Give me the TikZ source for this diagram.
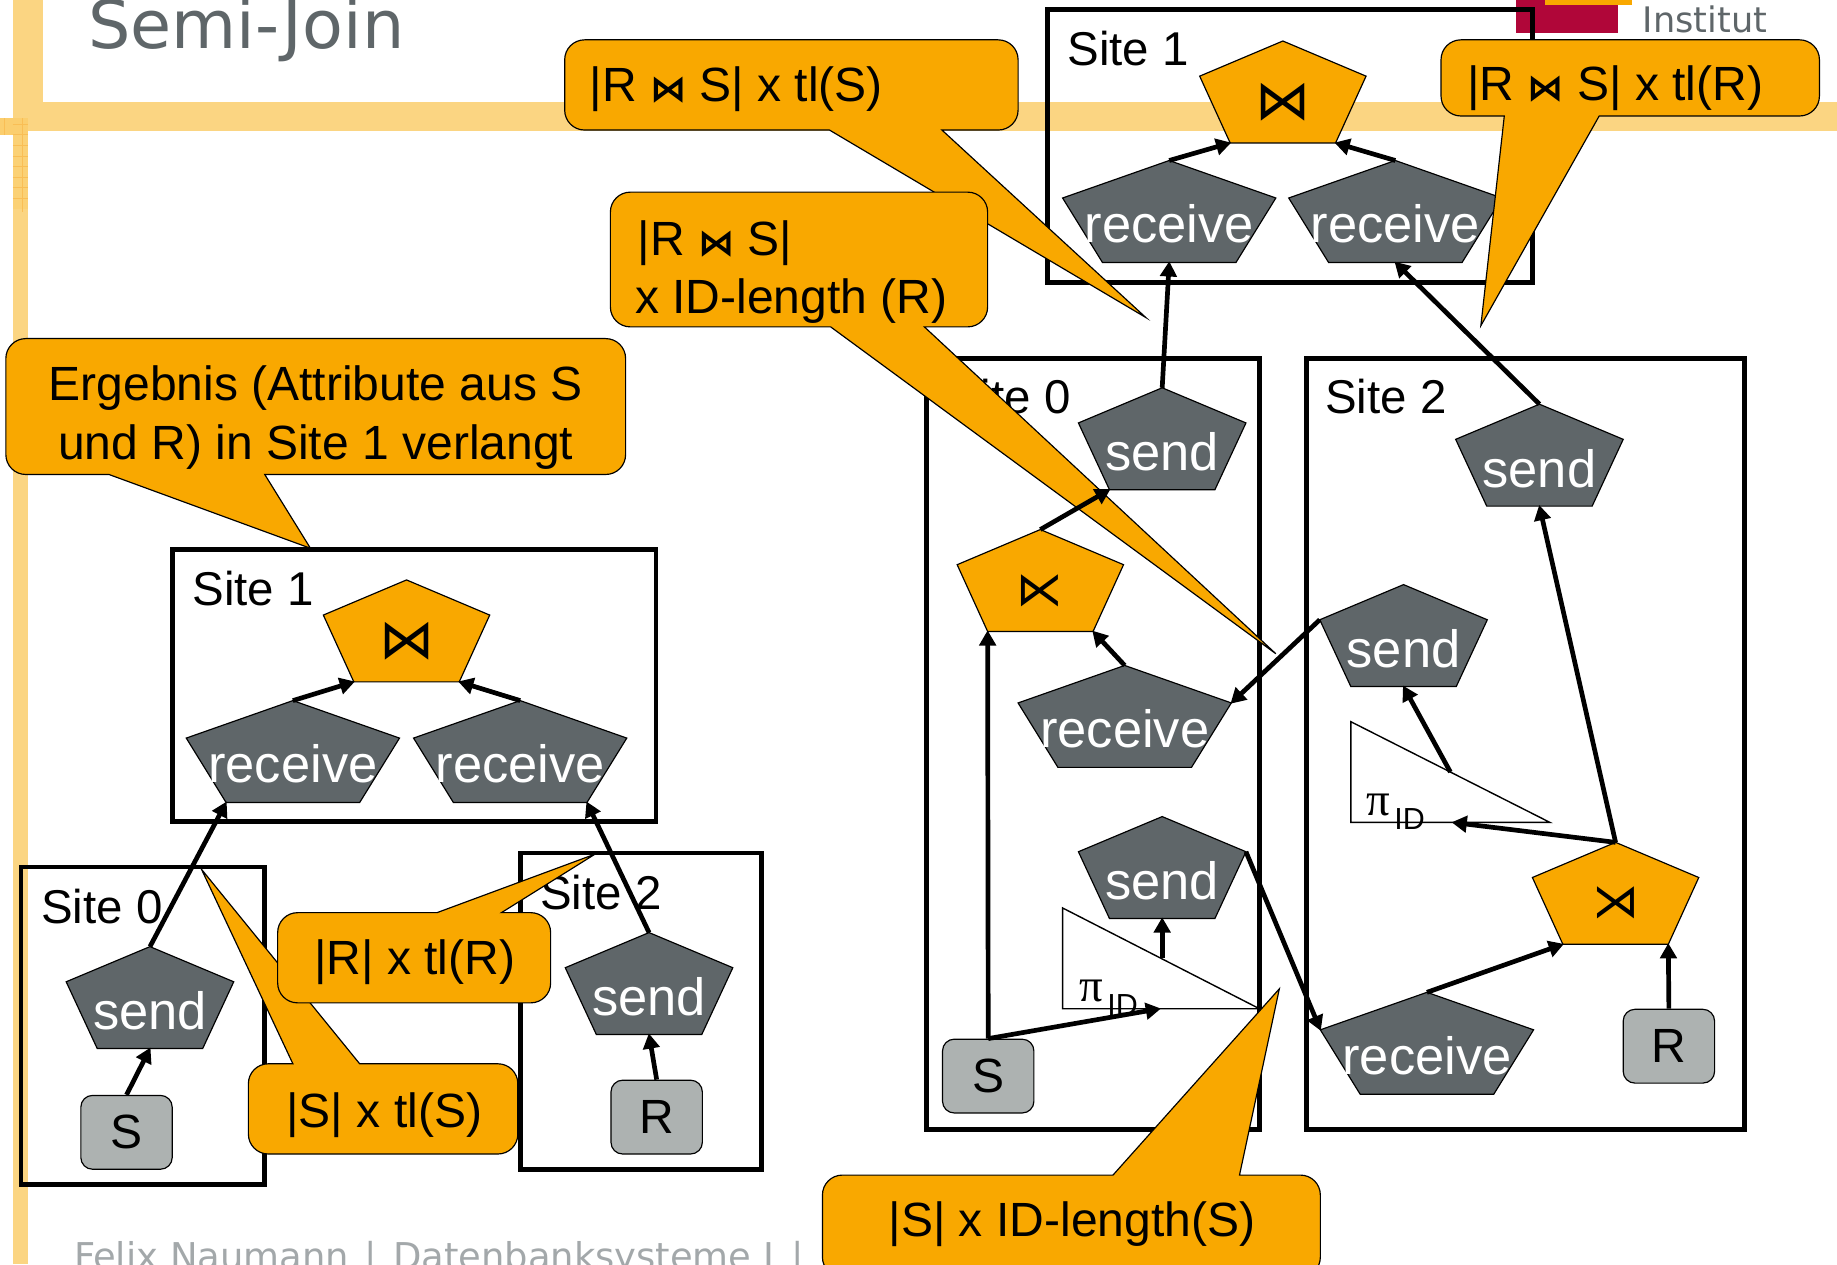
\documentclass[tikz,border=0pt]{standalone}
\usepackage{fontspec}
\setmainfont{Liberation Sans}
\newfontfamily\djv{DejaVu Sans}
\newfontfamily\djvb{DejaVu Sans Bold}
\newfontfamily\lserif{Liberation Serif}
\usetikzlibrary{arrows.meta}
\definecolor{hpiorange}{HTML}{F9A800}
\definecolor{hpigray}{HTML}{5F6669}
\definecolor{relgray}{HTML}{ADB2B1}
\definecolor{bandc}{HTML}{FBD582}
\definecolor{gridc}{HTML}{F9BE55}
\definecolor{hpired}{HTML}{B00639}
\definecolor{footc}{HTML}{A3A8AA}
\newcommand{\fs}[1]{\fontsize{#1}{#1}\selectfont}
\tikzset{
  x=1pt,y=-1pt,
  sitebox/.style={draw=black,line width=4pt,fill=none},
  graypent/.style={draw=black,line width=1pt,fill=hpigray},
  orangepent/.style={draw=black,line width=1pt,fill=hpiorange},
  whitetext/.style={text=white,anchor=base,inner sep=0pt,font=\fs{44.8}},
  symtext/.style={text=black,anchor=center,inner sep=0pt,font=\djv\fs{42}},
  labeltext/.style={text=black,anchor=base west,inner sep=0pt,font=\fs{40.5}},
  calloutshape/.style={draw=black,line width=1pt,fill=hpiorange},
  callouttext/.style={text=black,anchor=base west,inner sep=0pt,font=\fs{41}},
  callcenter/.style={text=black,anchor=base,inner sep=0pt,font=\fs{41}},
  relbox/.style={draw=black,line width=1pt,fill=relgray,rounded corners=10pt,minimum width=78pt,minimum height=63pt,inner sep=0pt,font=\fs{41}},
  trishape/.style={draw=black,line width=1.2pt,fill=white},
  flow/.style={draw=black,line width=4pt,-{Triangle[length=13pt,width=14pt]},shorten >=-1pt},
}
\newcommand{\pent}[8]{%
  \coordinate (#1-t) at (#2,#3);
  \coordinate (#1-l) at ({#2-#4},{#3+#5});
  \coordinate (#1-r) at ({#2+#4},{#3+#5});
  \coordinate (#1-bl) at ({#2-#6},{#3+#7});
  \coordinate (#1-br) at ({#2+#6},{#3+#7});
  \coordinate (#1-b) at (#2,{#3+#7});
  \draw[#8] (#1-t) -- (#1-r) -- (#1-br) -- (#1-bl) -- (#1-l) -- cycle;
}
\newcommand{\sendp}[3]{\pent{#1}{#2}{#3}{71.5}{30}{45}{87}{graypent}\node[whitetext] (#1) at (#2,{#3+71}) {send};}
\newcommand{\recvp}[3]{\pent{#1}{#2}{#3}{91}{32}{57}{87}{graypent}\node[whitetext] (#1) at (#2,{#3+70}) {receive};}
\newcommand{\opp}[4]{\pent{#1}{#2}{#3}{71}{30}{45}{87}{orangepent}\node[symtext] (#1) at (#2,{#3+52}) {#4};}
\newcommand{\rr}{17}
\newcommand{\rk}{7.6}
% name L T R B ax tipx tipy bx : tail on the bottom side
\newcommand{\callout}[9]{%
  \draw[calloutshape] (#6,#5) -- (#7,#8) -- (#9,#5) -- ({#4-\rr},#5) .. controls ({#4-\rk},#5) and (#4,{#5-\rk}) .. (#4,{#5-\rr}) -- (#4,{#3+\rr}) .. controls (#4,{#3+\rk}) and ({#4-\rk},#3) .. ({#4-\rr},#3) -- ({#2+\rr},#3) .. controls ({#2+\rk},#3) and (#2,{#3+\rk}) .. (#2,{#3+\rr}) -- (#2,{#5-\rr}) .. controls (#2,{#5-\rk}) and ({#2+\rk},#5) .. ({#2+\rr},#5) -- cycle;
}
% name L T R B ax tipx tipy bx : tail on the top side
\newcommand{\calloutT}[9]{%
  \draw[calloutshape] (#6,#3) -- (#7,#8) -- (#9,#3) -- ({#4-\rr},#3) .. controls ({#4-\rk},#3) and (#4,{#3+\rk}) .. (#4,{#3+\rr}) -- (#4,{#5-\rr}) .. controls (#4,{#5-\rk}) and ({#4-\rk},#5) .. ({#4-\rr},#5) -- ({#2+\rr},#5) .. controls ({#2+\rk},#5) and (#2,{#5-\rk}) .. (#2,{#5-\rr}) -- (#2,{#3+\rr}) .. controls (#2,{#3+\rk}) and ({#2+\rk},#3) .. ({#2+\rr},#3) -- cycle;
}
\newcommand{\jn}{{\djvb\fs{31}⋈}}
\begin{document}
\begin{tikzpicture}
\useasboundingbox (0,0) rectangle (1568,1079);
\fill[white] (0,0) rectangle (1568,1079);
% slide background
\fill[bandc] (11,0) rectangle (37,87);
\fill[bandc] (11,87) rectangle (1568,112);
\fill[bandc] (11,112) rectangle (24,1079);
\fill[bandc!85!hpiorange] (0,101) rectangle (24,115);
\fill[bandc!90!hpiorange] (11,115) rectangle (24,178);
\foreach \yy in {106,115,124,133,142,151,160,169}{\draw[gridc,line width=.5pt] (11,\yy) -- (24,\yy);}
\draw[gridc,line width=.5pt] (19,101) -- (19,181);
\draw[gridc,line width=.5pt] (4,101) -- (4,115);
\fill[hpired] (1294,0) rectangle (1381,28);
\fill[hpiorange] (1319,0) rectangle (1393,4);
\node[text=hpigray,anchor=base west,inner sep=0pt,font=\djv\fs{30}] (inst) at (1402,28) {Institut};
\node[text=hpigray,anchor=base west,inner sep=0pt,font=\djv\fs{57}] (title) at (75,41) {Semi-Join};
\node[text=footc,anchor=base west,inner sep=0pt,font=\djv\fs{31.5}] (foot) at (63,1084) {Felix Naumann\hspace{3pt} |\hspace{4pt} Datenbanksysteme I\hspace{5pt} |};
% site boxes
\draw[sitebox] (147,469) rectangle (560,701);
\draw[sitebox] (18,740) rectangle (226,1011);
\draw[sitebox] (444,728) rectangle (650,998);
\draw[sitebox] (894,8) rectangle (1308,241);
\draw[sitebox] (791,306) rectangle (1075,964);
\draw[sitebox] (1115,306) rectangle (1489,964);
\node[labeltext] (ls1) at (164,517) {Site 1};
\node[labeltext] (ls0) at (35,788) {Site 0};
\node[labeltext] (ls2) at (461,776) {Site 2};
\node[labeltext] (rs1) at (911,56) {Site 1};
\node[labeltext] (rs0) at (810,353) {Site 0};
\node[labeltext] (rs2) at (1131,353) {Site 2};
% left tree
\opp{ajoin}{347}{495}{\fs{47}⋈}
\recvp{arec1}{250}{598}
\recvp{arec2}{444}{598}
\sendp{asend0}{128}{808}
\sendp{asend2}{554}{796}
\node[relbox] (aS) at (108,966.5) {S};
\node[relbox] (aR) at (560.5,953.5) {R};
% top join
\opp{bjoin}{1095}{35}{\fs{47}⋈}
\recvp{brec1}{998}{137}
\recvp{brec2}{1191}{137}
% right site 0
\sendp{csend}{992}{331}
\opp{csemi}{888}{452}{\fs{40}⋉}
\recvp{crec}{960}{568}
\sendp{csend2}{992}{697}
\draw[trishape] (907,775) -- (907,861) -- (1075,861) -- cycle;
\coordinate (ctri-hyp) at (992,818);
\coordinate (ctri-bot) at (990,861);
\node[inner sep=0pt,anchor=base west,font=\lserif\fs{40}] (cpi) at (921,855) {π};
\node[inner sep=0pt,anchor=base west,font=\fs{26}] (cid) at (945,867) {ID};
\node[relbox] (cS) at (843.5,918.5) {S};
% right site 2
\sendp{dsend}{1314}{345}
\sendp{dsend2}{1198}{499}
\draw[trishape] (1153,616) -- (1153,702) -- (1323,702) -- cycle;
\coordinate (dtri-hyp) at (1238,659);
\coordinate (dtri-bot) at (1240,702);
\node[inner sep=0pt,anchor=base west,font=\lserif\fs{40}] (dpi) at (1166,696) {π};
\node[inner sep=0pt,anchor=base west,font=\fs{26}] (did) at (1190,708) {ID};
\opp{dsemi}{1379}{719}{\fs{40}⋊}
\recvp{drec}{1218}{847}
\node[relbox] (dR) at (1424.5,893) {R};
% connectors
\draw[flow] (aS.north) -- (asend0-b);
\draw[flow] (asend0-t) -- (arec1-bl);
\draw[flow] (aR.north) -- (asend2-b);
\draw[flow] (asend2-t) -- (arec2-br);
\draw[flow] (arec1-t) -- (ajoin-bl);
\draw[flow] (arec2-t) -- (ajoin-br);
\draw[flow] (brec1-t) -- (bjoin-bl);
\draw[flow] (brec2-t) -- (bjoin-br);
\draw[flow] (csend-t) -- (brec1-b);
\draw[flow] (dsend-t) -- (brec2-b);
\draw[flow] (crec-t) -- (csemi-br);
\draw[flow] (cS.north) -- (csemi-bl);
\draw[flow] (cS.north) -- (ctri-bot);
\draw[flow] (ctri-hyp) -- (csend2-b);
\draw[flow] (csend2-r) -- (drec-l);
\draw[flow] (dR.north) -- (dsemi-br);
\draw[flow] (drec-t) -- (dsemi-bl);
\draw[flow] (dsemi-t) -- (dsend-b);
\draw[flow] (dsemi-t) -- (dtri-bot);
\draw[flow] (dtri-hyp) -- (dsend2-b);
% callouts
\callout{ca}{5}{289}{534}{405}{93}{265}{468}{226}
\node[callcenter] (catext1) at (269.5,342) {Ergebnis (Attribute aus S};
\node[callcenter] (catext2) at (269.5,392) {und R) in Site 1 verlangt};
\callout{cb}{482}{34}{869}{111}{708}{978}{271}{804}
\node[callouttext] (cbtext) at (503,87) {|R \jn{} S| x tl(S)};
\callout{cc}{521}{164}{843}{279}{709}{1089}{558}{789}
\node[callouttext] (cctext1) at (544,218) {|R \jn{} S|};
\node[callouttext] (cctext2) at (542,268) {x ID-length (R)};
\callout{cd}{1230}{34}{1553}{99}{1284}{1264}{278}{1365}
\node[callouttext] (cdtext) at (1252,86) {|R \jn{} S| x tl(R)};
\calloutT{cf}{212}{908}{442}{985}{250}{172}{742}{307}
\node[callcenter] (cftext) at (328,962) {|S| x tl(S)};
\calloutT{ce}{237}{779}{470}{856}{373}{508}{729}{428}
\node[callcenter] (cetext) at (354,832) {|R| x tl(R)};
\calloutT{cg}{702}{1003}{1127}{1090}{950}{1092}{844}{1058}
\node[callcenter] (cgtext) at (915,1055) {|S| x ID-length(S)};
% connectors lying over the callout tail
\draw[flow] (csemi-t) -- (csend-bl);
\draw[flow] (dsend2-l) -- (crec-r);
\end{tikzpicture}
\end{document}
